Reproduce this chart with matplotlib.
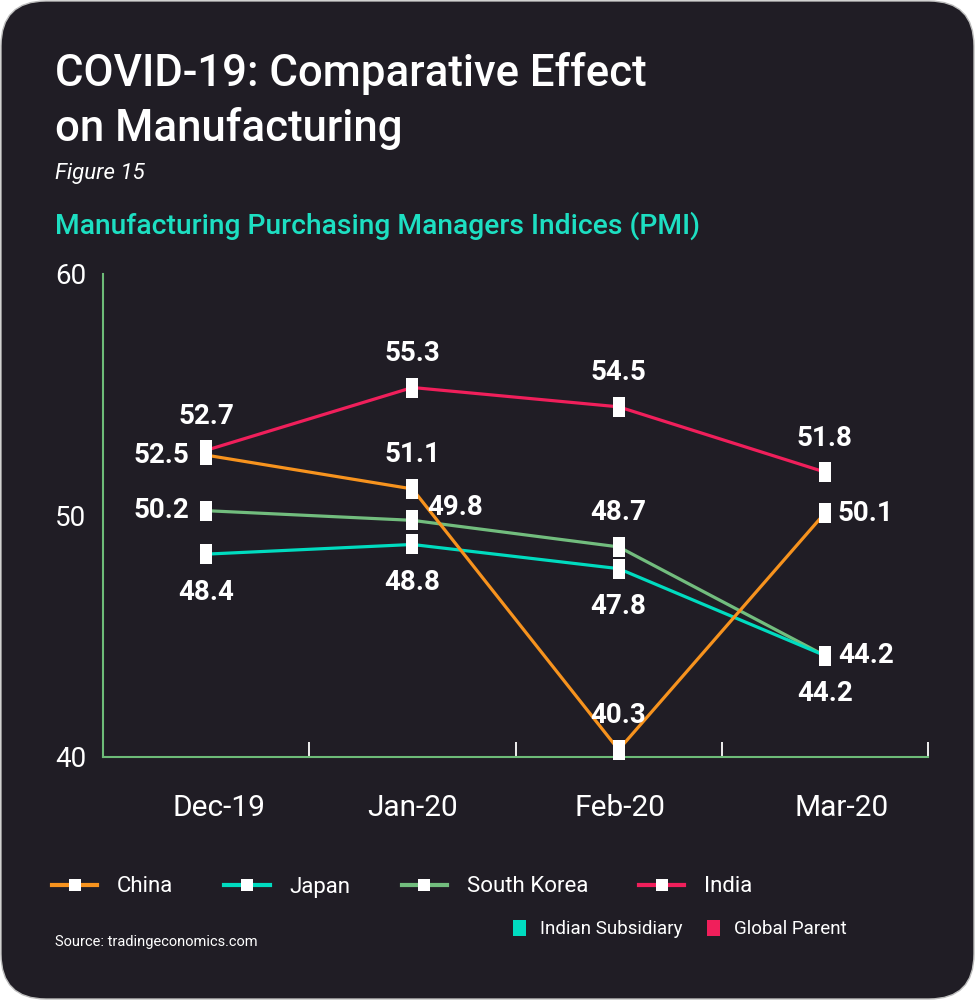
import matplotlib
matplotlib.use("Agg")
import matplotlib.pyplot as plt
import matplotlib.transforms as mtransforms
from matplotlib.lines import Line2D
from matplotlib.patches import FancyBboxPatch, Patch

plt.rcParams['font.family'] = ['Roboto', 'DejaVu Sans']

# data
months = ['Dec-19', 'Jan-20', 'Feb-20', 'Mar-20']
china = [52.5, 51.1, 40.3, 50.1]
japan = [48.4, 48.8, 47.8, 44.2]
south_korea = [50.2, 49.8, 48.7, 44.2]
india = [52.7, 55.3, 54.5, 51.8]

# where each value label sits relative to its marker
china_pos = ['left', 'above', 'above', 'right']
japan_pos = ['below', 'below', 'below', 'below']
korea_pos = ['left', 'upright', 'above', 'right']
india_pos = ['above', 'above', 'above', 'above']

BG = '#201d25'
WHITE = '#ffffff'
C_CHINA = '#f7931e'
C_JAPAN = '#00dcc0'
C_KOREA = '#72bd7e'
C_INDIA = '#f01f5b'
AXIS = '#6dbb78'

fig = plt.figure(figsize=(9.75, 10), dpi=100, facecolor='white')
bg = FancyBboxPatch((0.01, 0.01), 9.73, 9.98,
                    boxstyle='round,pad=0,rounding_size=0.45',
                    transform=fig.dpi_scale_trans, facecolor=BG,
                    edgecolor='#bdbdbd', linewidth=1, zorder=-10)
fig.patches.append(bg)

ax = fig.add_axes([103 / 975, 1 - 757 / 1000, 825 / 975, 483 / 1000])
ax.set_facecolor('none')

x = [i + 0.5 for i in range(len(months))]
rect = [(-0.3, -0.5), (0.3, -0.5), (0.3, 0.5), (-0.3, 0.5), (-0.3, -0.5)]

series = [
    (india, C_INDIA, india_pos, 'India'),
    (south_korea, C_KOREA, korea_pos, 'South Korea'),
    (japan, C_JAPAN, japan_pos, 'Japan'),
    (china, C_CHINA, china_pos, 'China'),
]

offsets = {'above': (0, 34, 'center'), 'below': (0, -38, 'center'),
           'left': (-17, 0, 'right'), 'right': (13, 0, 'left'),
           'upright': (15, 13, 'left')}

for vals, col, pos, name in series:
    ax.plot(x, vals, color=col, lw=2.3, zorder=3, solid_capstyle='butt')
for vals, col, pos, name in series:
    ax.plot(x, vals, ls='none', marker=rect, markersize=14.5,
            markerfacecolor=WHITE, markeredgewidth=0, zorder=5, clip_on=False)
    for xi, v, p in zip(x, vals, pos):
        dx, dy, ha = offsets[p]
        ax.annotate(f'{v:.1f}', (xi, v), xytext=(dx, dy),
                    textcoords='offset pixels', ha=ha, va='center',
                    color=WHITE, fontsize=20, fontweight='bold', zorder=6)

ax.set_xlim(0, 4)
ax.set_ylim(40, 60)
ax.set_xticks(x)
ax.set_xticklabels(months)
ax.set_xticks([1, 2, 3, 4], minor=True)
ax.set_yticks([40, 50, 60])
ax.tick_params(axis='x', which='major', length=0, pad=27, labelsize=21.5,
               labelcolor=WHITE)
ax.tick_params(axis='x', which='minor', direction='in', length=11,
               width=1.3, color=WHITE)
ax.tick_params(axis='y', length=0, pad=12, labelsize=20, labelcolor=WHITE)
# the month labels sit a little right of their markers in the original
for lab, shift in zip(ax.get_xticklabels(), [13, 0, 1, 17]):
    lab.set_transform(lab.get_transform() +
                      mtransforms.ScaledTranslation(shift / 100, 0,
                                                    fig.dpi_scale_trans))
for s in ['top', 'right']:
    ax.spines[s].set_visible(False)
for s in ['left', 'bottom']:
    ax.spines[s].set_color(AXIS)
    ax.spines[s].set_linewidth(1.5)

# titles
fig.text(55 / 975, 1 - 86 / 1000, 'COVID-19: Comparative Effect', color=WHITE,
         fontsize=31.5, fontweight='medium', va='baseline')
fig.text(55 / 975, 1 - 141 / 1000, 'on Manufacturing', color=WHITE,
         fontsize=31.5, fontweight='medium', va='baseline')
fig.text(55 / 975, 1 - 179 / 1000, 'Figure 15', color=WHITE, fontsize=16,
         style='italic', va='baseline')
fig.text(55 / 975, 1 - 234 / 1000,
         'Manufacturing Purchasing Managers Indices (PMI)', color='#1ddfc2',
         fontsize=20.3, fontweight='medium', va='baseline')

# legends
sq = [(-0.45, -0.5), (0.45, -0.5), (0.45, 0.5), (-0.45, 0.5), (-0.45, -0.5)]
handles = [Line2D([], [], color=c, lw=3, marker=sq, markersize=9,
                  markerfacecolor=WHITE, markeredgewidth=0)
           for c in [C_CHINA, C_JAPAN, C_KOREA, C_INDIA]]
leg1 = fig.legend(handles, ['China', 'Japan', 'South Korea', 'India'],
                  loc='center left', bbox_to_anchor=(52 / 975, 1 - 887 / 1000),
                  ncol=4, frameon=False, fontsize=16, labelcolor=WHITE,
                  handlelength=2.03, handletextpad=0.9, columnspacing=2.3,
                  borderpad=0, borderaxespad=0)
patches = [Patch(facecolor=C_JAPAN, edgecolor='none'),
           Patch(facecolor=C_INDIA, edgecolor='none')]
leg2 = fig.legend(patches, ['Indian Subsidiary', 'Global Parent'],
                  loc='center left', bbox_to_anchor=(513 / 975, 1 - 929 / 1000),
                  ncol=2, frameon=False, fontsize=13.5, labelcolor=WHITE,
                  handlelength=0.7, handleheight=1.0, handletextpad=0.75,
                  columnspacing=1.3, borderpad=0, borderaxespad=0)

fig.text(55 / 975, 1 - 942 / 1000, 'Source: tradingeconomics.com', color=WHITE,
         fontsize=10.5, va='center')

fig.savefig('out.png', dpi=100, facecolor=fig.get_facecolor())
